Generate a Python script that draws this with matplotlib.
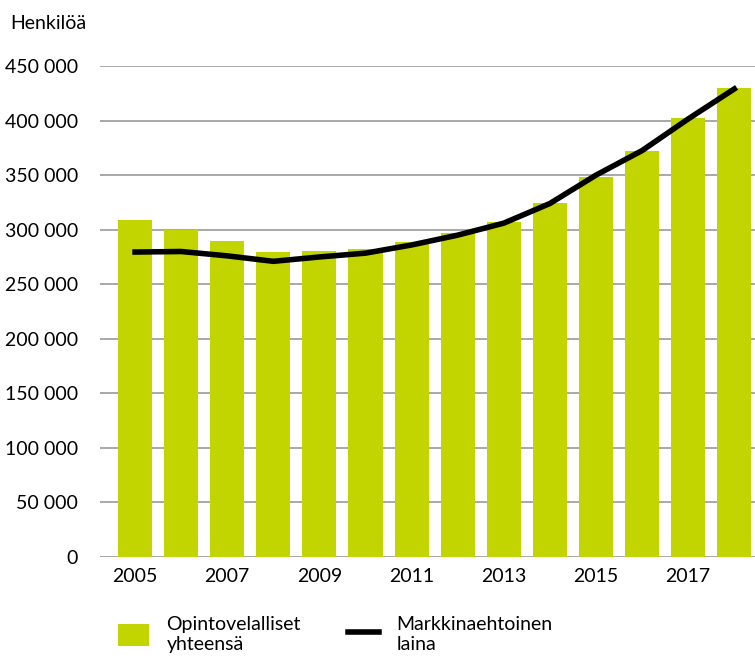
import matplotlib.pyplot as plt
import numpy as np

plt.rcParams['font.family'] = ['Lato', 'DejaVu Sans']

# data
years = [2005, 2006, 2007, 2008, 2009, 2010, 2011, 2012, 2013, 2014, 2015, 2016, 2017, 2018]
total = [309000, 300000, 289500, 279500, 280500, 282500, 288500, 297000, 307000, 324500, 348000, 372000, 402500, 430000]
market = [279500, 280000, 276000, 271000, 275000, 278500, 286000, 295000, 306000, 324000, 350000, 372500, 401500, 429000]
yticks = [0, 50000, 100000, 150000, 200000, 250000, 300000, 350000, 400000, 450000]

green = '#c3d500'

fig = plt.figure(figsize=(7.55, 6.59), dpi=100)
ax = fig.add_axes([0.1325, 0.1548, 0.8675, 0.745])

x = np.arange(len(years))
bars = ax.bar(x, total, width=0.74, color=green, zorder=2)
line, = ax.plot(x, market, color='black', linewidth=4, zorder=3)

ax.set_ylim(0, 450000)
ax.set_xlim(-0.76, 13.45)
ax.set_yticks(yticks)
ax.set_yticklabels([f'{v:,}'.replace(',', ' ') for v in yticks], fontsize=14)
ax.yaxis.grid(True, color='#999999', linewidth=1.2)
ax.set_axisbelow(True)
ax.tick_params(axis='y', length=0, pad=16)
ax.tick_params(axis='x', length=0, pad=8)
ax.set_xticks(x[::2])
ax.set_xticklabels([str(y) for y in years[::2]], fontsize=14)
for s in ['top', 'right', 'left', 'bottom']:
    ax.spines[s].set_visible(False)

fig.text(0.013, 0.965, 'Henkilöä', fontsize=14, ha='left', va='center')

fig.legend([bars, line], ['Opintovelalliset\nyhteensä', 'Markkinaehtoinen\nlaina'],
           loc='lower left', bbox_to_anchor=(0.133, -0.017), ncol=2, frameon=False,
           fontsize=14, handlelength=1.6, handleheight=1.4, columnspacing=2.4,
           labelspacing=0.2, handletextpad=0.9)

fig.savefig('out.png', dpi=100)
